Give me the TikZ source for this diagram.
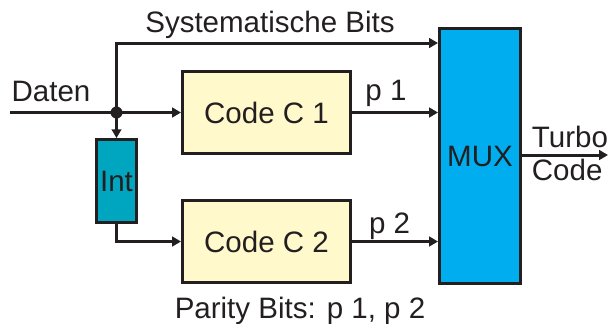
\documentclass[tikz,border=0pt]{standalone}
\usepackage{fontspec}
\setmainfont{Liberation Sans}
\usepackage{xcolor}
\usetikzlibrary{arrows.meta,positioning}

\definecolor{inkgray}{RGB}{35,31,32}
\definecolor{codefill}{RGB}{255,249,204}
\definecolor{intfill}{RGB}{0,166,192}
\definecolor{muxfill}{RGB}{0,174,239}

\begin{document}
\begin{tikzpicture}[
  >={Triangle[length=2.2mm,width=2.4mm]},
  line width=0.075cm,
  draw=inkgray,
  every node/.style={inner sep=2pt, text=inkgray, font=\fontsize{21}{25}\selectfont},
  coder/.style={draw=inkgray, fill=codefill, minimum width=4.2cm, minimum height=2.05cm},
  intbox/.style={draw=inkgray, fill=intfill, minimum width=1cm, minimum height=2.075cm},
  muxbox/.style={draw=inkgray, fill=muxfill, minimum width=2.025cm, minimum height=6.375cm},
  lbl/.style={anchor=base},
  flow/.style={->, inkgray}
]
\useasboundingbox (0,0) rectangle (15.25,-8.075);

% encoders, interleaver and multiplexer
\node[coder] (c1) at (6.6625,-2.8125) {Code C 1};
\node[coder, below=1.1cm of c1] (c2) {Code C 2};
\node[muxbox] (mux) at (12,-3.9) {MUX};

% input line and branch point
\coordinate (din) at (0.25,-2.8125);
\coordinate (split) at (2.9125,-2.8125);
\coordinate (systop) at (2.9125,-1.075);
\coordinate (dout) at (15.2,-3.875);
\node[intbox, below=0.64cm of split] (int) {Int};

\draw[flow] (din) -- (c1.west);
\fill[inkgray] (split) circle (0.15);
\draw[flow] (split) -- (int.north);
\draw[flow] (int.south) |- (c2.west);

% systematic and parity branches into the MUX
\draw[flow] (split) -- (systop) -- (systop -| mux.west);
\draw[flow] (c1.east) -- (c1.east -| mux.west);
\draw[flow] (c2.east) -- (c2.east -| mux.west);
\draw[flow] (mux.east |- dout) -- (dout);

% labels
\node[lbl] (syslbl) at (6.75,-0.8) {Systematische Bits};
\node[lbl] (dlbl) at (1.275,-2.525) {Daten};
\node[lbl] (p1lbl) at (9.65,-2.5) {p 1};
\node[lbl] (p2lbl) at (9.74,-5.825) {p 2};
\node[lbl] (turbo) at (14.25,-3.675) {Turbo};
\node[lbl] (codelbl) at (14.18,-4.5) {Code};
\node[lbl] (parity) at (7.5,-7.95) {Parity Bits: p 1, p 2};

\end{tikzpicture}
\end{document}
